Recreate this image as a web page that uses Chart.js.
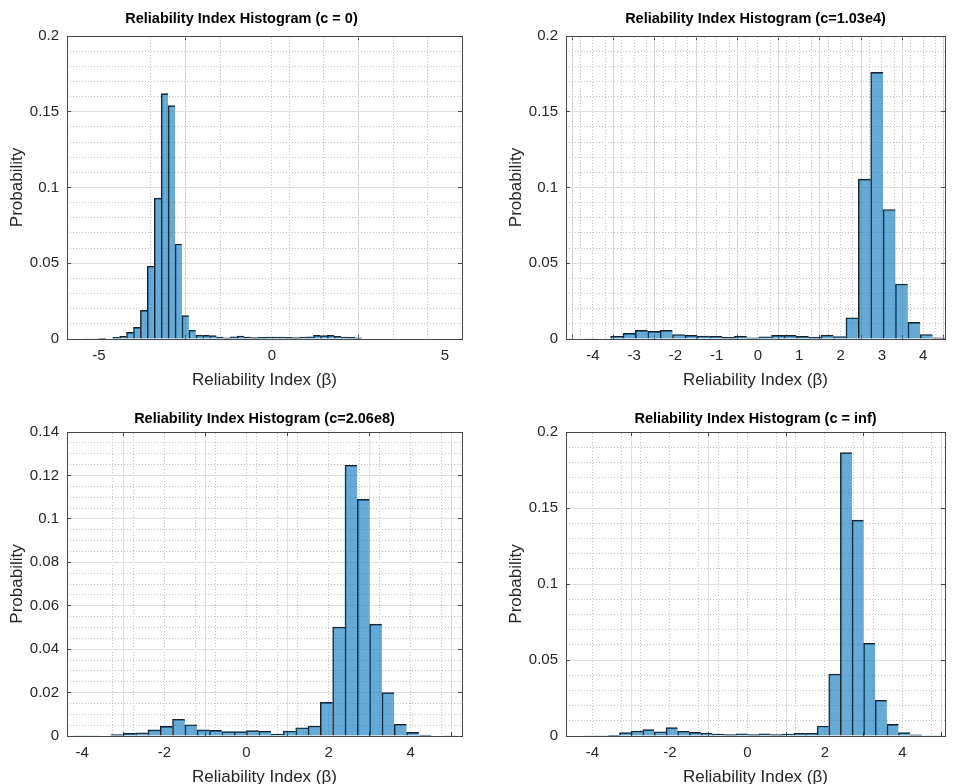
<!DOCTYPE html>
<html>
<head>
<meta charset="utf-8">
<script src="https://cdn.jsdelivr.net/npm/chart.js@4.4.1/dist/chart.umd.min.js"></script>
<style>
  html, body { margin: 0; padding: 0; background: #fff; }
  body { width: 953px; height: 784px; position: relative; overflow: hidden; }
  canvas { position: absolute; }
</style>
</head>
<body>
<canvas id="h1" width="476" height="392" style="left:0;top:0"></canvas>
<canvas id="h2" width="454" height="392" style="left:499px;top:0"></canvas>
<canvas id="h3" width="476" height="392" style="left:0;top:392px"></canvas>
<canvas id="h4" width="454" height="392" style="left:499px;top:392px"></canvas>
<script>
// histogram bins: first edge, bin width, probability of each bin
const c0Start = -5.4
const c0Width = 0.2
const c0Prob = [0.0002, 0.0002, 0.0004, 0.0003, 0.0011, 0.0018, 0.0044, 0.0077, 0.0189, 0.048,
    0.093, 0.162, 0.154, 0.0627, 0.0154, 0.0059, 0.0026, 0.0024, 0.0022, 0.0013,
    0.0007, 0.0015, 0.002, 0.0013, 0.0009, 0.0011, 0.0013, 0.0013, 0.0013, 0.0011,
    0.0009, 0.0013, 0.0015, 0.0024, 0.0022, 0.0024, 0.0018, 0.0013, 0.0011, 0.0007, 0.0003]

const c1Start = -4.17
const c1Width = 0.3
const c1Prob = [0.0002, 0.0003, 0.0018, 0.0037, 0.0057, 0.005, 0.0057, 0.003, 0.0024, 0.002,
    0.0018, 0.0011, 0.0018, 0.0007, 0.0014, 0.0024, 0.0024, 0.0017, 0.0012, 0.0026,
    0.0016, 0.014, 0.1055, 0.176, 0.0855, 0.0363, 0.011, 0.003, 0.0007]

const c2Start = -4.2
const c2Width = 0.3
const c2Prob = [0.0001, 0.0001, 0.0002, 0.0006, 0.0012, 0.0015, 0.0028, 0.0044, 0.0077, 0.0052,
    0.0028, 0.0026, 0.002, 0.002, 0.0025, 0.0022, 0.0009, 0.0023, 0.0038, 0.0046,
    0.0155, 0.0502, 0.1247, 0.109, 0.0515, 0.02, 0.0054, 0.0017, 0.0003, 0.0002, 0.0001]

const c3Start = -4.2
const c3Width = 0.3
const c3Prob = [0.0001, 0.0002, 0.0004, 0.0022, 0.0033, 0.0042, 0.0028, 0.0055, 0.0031, 0.0024,
    0.002, 0.0013, 0.0009, 0.0015, 0.0009, 0.0014, 0.0009, 0.0013, 0.0018, 0.0018,
    0.0066, 0.0408, 0.1864, 0.142, 0.061, 0.0235, 0.0077, 0.0022, 0.0007, 0.0002, 0.0002]

// tick labels
const c0XTicks = [-5, 0, 5]
const c1XTicks = [-4, -3, -2, -1, 0, 1, 2, 3, 4]
const c2XTicks = [-4, -2, 0, 2, 4]
const c3XTicks = [-4, -2, 0, 2, 4]
const probTicks = [0, 0.05, 0.1, 0.15, 0.2]
const probTicks2 = [0, 0.02, 0.04, 0.06, 0.08, 0.1, 0.12, 0.14]

const MAJOR = 'rgb(224,224,224)'
const MINOR = 'rgb(195,195,195)'
const FRAME = 'rgb(70,70,70)'
const TEXT = '#262626'
const NONE = 'rgba(0,0,0,0)'

Chart.defaults.font.family = '"Liberation Sans", Arial, Helvetica, sans-serif'
Chart.defaults.color = TEXT

// grid positions between the labelled ticks
function steps(from, to, step, skip) {
    const r = []
    for (let i = 0; from + i * step <= to + 1e-9; i++) {
        const v = Math.round((from + i * step) * 1e4) / 1e4
        if (!skip.some(s => Math.abs(s - v) < 1e-9)) r.push(v)
    }
    return r
}

const fmt = v => String(Math.round(v * 1e4) / 1e4)
const isMajor = (arr, ctx) => !!ctx.tick && arr.some(s => Math.abs(s - ctx.tick.value) < 1e-9)

function histogram(id, o) {
    const last = o.prob.length - 1
    const points = o.prob.map((p, i) => ({x: o.start + o.width * (i + 0.5), y: p}))
    const setTicks = arr => s => { s.ticks = arr.map(v => ({value: v})) }
    // the frame axes carry minor grid lines plus short major tick marks inside the box
    const frameGrid = major => ({
        color: ctx => isMajor(major, ctx) ? NONE : MINOR,
        drawTicks: true,
        tickLength: -4,
        tickColor: ctx => isMajor(major, ctx) ? FRAME : NONE
    })
    return new Chart(id, {
        type: 'bar',
        data: {
            datasets: [{
                data: points,
                xAxisID: 'x',
                yAxisID: 'y',
                backgroundColor: 'rgba(0,114,189,0.6)',
                borderColor: 'rgb(30,30,30)',
                borderWidth: ctx => ({top: 1, left: 1, right: ctx.dataIndex === last ? 1 : 0, bottom: 0}),
                barPercentage: 1,
                categoryPercentage: 1
            }]
        },
        options: {
            responsive: false,
            animation: false,
            layout: {padding: {left: 7, right: 0, top: 0, bottom: 0}},
            plugins: {
                legend: {display: false},
                tooltip: {enabled: false},
                title: {
                    display: true,
                    text: o.title,
                    fullSize: o.titleFull,
                    color: '#000',
                    font: {size: 14.5, weight: 'bold', lineHeight: 1.2},
                    padding: {top: o.titleTop, bottom: o.titleBottom}
                }
            },
            scales: {
                x: {
                    type: 'linear', position: 'bottom', min: o.xMin, max: o.xMax, offset: false,
                    afterBuildTicks: setTicks(o.xTicks),
                    afterFit: s => { s.height = o.xAxisH },
                    grid: {color: MAJOR, drawTicks: true, tickLength: -4, tickColor: FRAME},
                    border: {color: FRAME, width: 1},
                    ticks: {padding: 12, maxRotation: 0, autoSkip: false, font: {size: 15}, callback: fmt},
                    title: {display: true, text: 'Reliability Index (β)', font: {size: 17, lineHeight: 1},
                        padding: {top: 0, bottom: o.xTitlePad}}
                },
                x2: {
                    type: 'linear', position: 'top', min: o.xMin, max: o.xMax, offset: false,
                    afterBuildTicks: setTicks(o.xTicks.concat(o.xMinor)),
                    afterFit: s => { s.height = 0 },
                    grid: frameGrid(o.xTicks),
                    border: {color: FRAME, width: 1, dash: [1, 2]},
                    ticks: {display: false}
                },
                y: {
                    type: 'linear', position: 'left', min: 0, max: o.yMax,
                    afterBuildTicks: setTicks(o.yTicks),
                    afterFit: s => { s.width = 60 },
                    grid: {color: MAJOR, drawTicks: true, tickLength: -4, tickColor: FRAME},
                    border: {color: FRAME, width: 1},
                    ticks: {padding: 12, autoSkip: false, font: {size: 15}, callback: fmt},
                    title: {display: true, text: 'Probability', font: {size: 17, lineHeight: 1},
                        padding: {top: 1.5, bottom: 0}}
                },
                y2: {
                    type: 'linear', position: 'right', min: 0, max: o.yMax,
                    afterBuildTicks: setTicks(o.yTicks.concat(o.yMinor)),
                    afterFit: s => { s.width = o.padRight },
                    grid: frameGrid(o.yTicks),
                    border: {color: FRAME, width: 1, dash: [1, 2]},
                    ticks: {display: false}
                }
            }
        }
    })
}

histogram('h1', {
    title: 'Reliability Index Histogram (c = 0)', titleFull: true,
    start: c0Start, width: c0Width, prob: c0Prob,
    xMin: -5.92, xMax: 5.49, xTicks: c0XTicks, xMinor: steps(-5, 5, 1, c0XTicks),
    yMax: 0.2, yTicks: probTicks, yMinor: steps(0, 0.2, 0.01, probTicks),
    padRight: 14, titleTop: 10, titleBottom: 8.6, xAxisH: 53, xTitlePad: 3
})

histogram('h2', {
    title: 'Reliability Index Histogram (c=1.03e4)', titleFull: false,
    start: c1Start, width: c1Width, prob: c1Prob,
    xMin: -4.65, xMax: 4.53, xTicks: c1XTicks, xMinor: steps(-4.6, 4.4, 0.2, c1XTicks),
    yMax: 0.2, yTicks: probTicks, yMinor: steps(0, 0.2, 0.01, probTicks),
    padRight: 8, titleTop: 10, titleBottom: 8.6, xAxisH: 53, xTitlePad: 3
})

histogram('h3', {
    title: 'Reliability Index Histogram (c=2.06e8)', titleFull: false,
    start: c2Start, width: c2Width, prob: c2Prob,
    xMin: -4.37, xMax: 5.25, xTicks: c2XTicks, xMinor: steps(-4, 5, 0.5, c2XTicks),
    yMax: 0.14, yTicks: probTicks2, yMinor: steps(0, 0.14, 0.005, probTicks2),
    padRight: 14, titleTop: 18, titleBottom: 4.6, xAxisH: 48, xTitlePad: -1.5
})

histogram('h4', {
    title: 'Reliability Index Histogram (c = inf)', titleFull: false,
    start: c3Start, width: c3Width, prob: c3Prob,
    xMin: -4.68, xMax: 5.1, xTicks: c3XTicks, xMinor: steps(-4.5, 5, 0.5, c3XTicks),
    yMax: 0.2, yTicks: probTicks, yMinor: steps(0, 0.2, 0.01, probTicks),
    padRight: 8, titleTop: 18, titleBottom: 4.6, xAxisH: 48, xTitlePad: -1.5
})
</script>
</body>
</html>
